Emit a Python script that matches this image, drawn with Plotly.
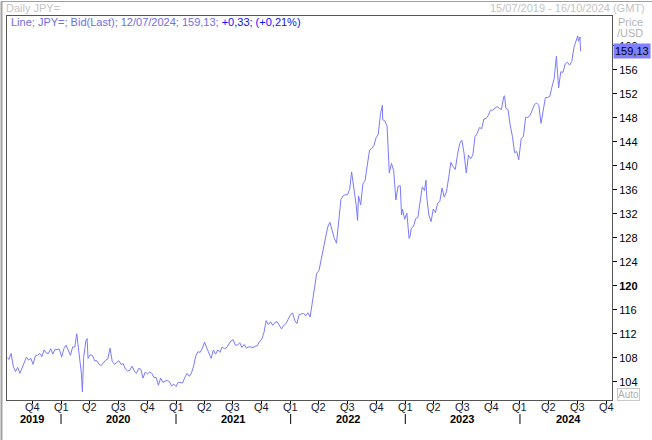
import plotly.graph_objects as go

# ---------------- data ----------------
obs_dates = [
    "2019-07-15", "2019-07-19", "2019-07-26", "2019-08-02", "2019-08-09", "2019-08-16", "2019-08-23", "2019-08-30",
    "2019-09-06", "2019-09-13", "2019-09-20", "2019-09-27", "2019-10-04", "2019-10-11", "2019-10-18", "2019-10-25",
    "2019-11-01", "2019-11-08", "2019-11-15", "2019-11-22", "2019-11-29", "2019-12-06", "2019-12-13", "2019-12-20",
    "2019-12-27",
    "2020-01-03", "2020-01-10", "2020-01-17", "2020-01-24", "2020-01-31", "2020-02-07", "2020-02-14", "2020-02-20",
    "2020-02-28", "2020-03-06", "2020-03-09", "2020-03-13", "2020-03-20", "2020-03-24", "2020-03-27", "2020-04-03",
    "2020-04-10", "2020-04-17", "2020-04-24", "2020-05-01", "2020-05-08", "2020-05-15", "2020-05-22", "2020-05-29",
    "2020-06-05", "2020-06-12", "2020-06-19", "2020-06-26", "2020-07-03", "2020-07-10", "2020-07-17", "2020-07-24",
    "2020-07-31", "2020-08-07", "2020-08-14", "2020-08-21", "2020-08-28", "2020-09-04", "2020-09-11", "2020-09-18",
    "2020-09-25", "2020-10-02", "2020-10-09", "2020-10-16", "2020-10-23", "2020-10-30", "2020-11-06", "2020-11-13",
    "2020-11-20", "2020-11-27", "2020-12-04", "2020-12-11", "2020-12-18", "2020-12-25",
    "2021-01-01", "2021-01-08", "2021-01-15", "2021-01-22", "2021-01-29", "2021-02-05", "2021-02-12", "2021-02-19",
    "2021-02-26", "2021-03-05", "2021-03-12", "2021-03-19", "2021-03-26", "2021-04-02", "2021-04-09", "2021-04-16",
    "2021-04-23", "2021-04-30", "2021-05-07", "2021-05-14", "2021-05-21", "2021-05-28", "2021-06-04", "2021-06-11",
    "2021-06-18", "2021-06-25", "2021-07-02", "2021-07-09", "2021-07-16", "2021-07-23", "2021-07-30", "2021-08-06",
    "2021-08-13", "2021-08-20", "2021-08-27", "2021-09-03", "2021-09-10", "2021-09-17", "2021-09-24", "2021-10-01",
    "2021-10-08", "2021-10-15", "2021-10-22", "2021-10-29", "2021-11-05", "2021-11-12", "2021-11-19", "2021-11-26",
    "2021-12-03", "2021-12-10", "2021-12-17", "2021-12-24", "2021-12-31",
    "2022-01-07", "2022-01-14", "2022-01-21", "2022-01-28", "2022-02-04", "2022-02-11", "2022-02-18", "2022-02-25",
    "2022-03-04", "2022-03-11", "2022-03-18", "2022-03-25", "2022-04-01", "2022-04-08", "2022-04-15", "2022-04-22",
    "2022-04-29", "2022-05-06", "2022-05-13", "2022-05-20", "2022-05-27", "2022-06-03", "2022-06-10", "2022-06-17",
    "2022-06-24", "2022-07-01", "2022-07-08", "2022-07-14", "2022-07-22", "2022-07-29", "2022-08-02", "2022-08-05",
    "2022-08-12", "2022-08-19", "2022-08-26", "2022-09-02", "2022-09-09", "2022-09-16", "2022-09-23", "2022-09-30",
    "2022-10-07", "2022-10-14", "2022-10-20", "2022-10-21", "2022-10-28", "2022-11-04", "2022-11-11", "2022-11-18",
    "2022-11-25", "2022-12-02", "2022-12-09", "2022-12-16", "2022-12-20", "2022-12-23", "2022-12-30",
    "2023-01-06", "2023-01-13", "2023-01-16", "2023-01-20", "2023-01-27", "2023-02-03", "2023-02-10", "2023-02-17",
    "2023-02-24", "2023-03-03", "2023-03-08", "2023-03-10", "2023-03-17", "2023-03-24", "2023-03-31", "2023-04-07",
    "2023-04-14", "2023-04-21", "2023-04-28", "2023-05-05", "2023-05-12", "2023-05-19", "2023-05-26", "2023-06-02",
    "2023-06-09", "2023-06-16", "2023-06-23", "2023-06-30", "2023-07-07", "2023-07-14", "2023-07-21", "2023-07-28",
    "2023-08-04", "2023-08-11", "2023-08-18", "2023-08-25", "2023-09-01", "2023-09-08", "2023-09-15", "2023-09-22",
    "2023-09-29", "2023-10-06", "2023-10-13", "2023-10-20", "2023-10-27", "2023-11-03", "2023-11-10", "2023-11-13",
    "2023-11-17", "2023-11-24", "2023-12-01", "2023-12-08", "2023-12-15", "2023-12-22", "2023-12-28",
    "2024-01-05", "2024-01-12", "2024-01-19", "2024-01-26", "2024-02-02", "2024-02-09", "2024-02-16", "2024-02-23",
    "2024-03-01", "2024-03-08", "2024-03-15", "2024-03-22", "2024-03-29", "2024-04-05", "2024-04-12", "2024-04-19",
    "2024-04-26", "2024-04-29", "2024-05-03", "2024-05-10", "2024-05-17", "2024-05-24", "2024-05-31", "2024-06-07",
    "2024-06-14", "2024-06-21", "2024-06-28", "2024-07-03", "2024-07-05", "2024-07-10", "2024-07-12",
]

usd_jpy = [
    108.0, 107.7, 108.7, 106.6, 105.7, 106.4, 105.4, 106.3,
    106.9, 108.1, 107.6, 107.9, 106.9, 108.3, 108.4, 108.7,
    108.2, 109.3, 108.8, 108.7, 109.5, 108.6, 109.4, 109.4,
    109.4,
    108.1, 109.5, 110.1, 109.3, 108.4, 109.8, 109.8, 112.0,
    107.9, 105.3, 102.3, 108.0, 110.8, 111.2, 107.9, 108.5,
    108.4, 107.5, 107.5, 106.9, 106.7, 107.1, 107.6, 107.8,
    109.6, 107.4, 106.9, 107.2, 107.5, 106.9, 107.0, 106.1,
    105.8, 105.9, 106.6, 105.8, 105.4, 106.2, 106.1, 104.6,
    105.6, 105.3, 105.6, 105.4, 104.7, 104.7, 103.4, 104.6,
    103.9, 104.1, 104.2, 104.0, 103.3, 103.6,
    103.2, 103.9, 103.9, 103.8, 104.7, 105.4, 104.9, 105.4,
    106.6, 108.3, 109.0, 108.9, 109.6, 110.6, 109.6, 108.8,
    107.9, 109.3, 108.6, 109.3, 108.9, 109.8, 109.5, 109.7,
    110.2, 110.8, 111.0, 110.1, 110.1, 110.5, 109.7, 110.2,
    109.6, 109.8, 109.8, 109.7, 109.9, 110.0, 110.7, 111.1,
    112.2, 114.2, 113.5, 114.0, 113.4, 113.9, 114.0, 113.4,
    112.8, 113.4, 113.7, 114.4, 115.1,
    115.5, 114.2, 113.7, 115.2, 115.3, 115.4, 115.0, 115.5,
    114.8, 117.3, 119.2, 122.1, 122.5, 124.3, 126.4, 128.5,
    129.8, 130.6, 129.2, 127.9, 127.1, 130.9, 134.4, 135.0,
    135.2, 135.2, 136.1, 139.0, 136.1, 133.3, 130.9, 135.0,
    133.5, 137.0, 137.6, 140.2, 142.6, 142.9, 143.4, 144.7,
    145.3, 148.7, 150.1, 147.7, 147.5, 146.6, 138.8, 140.4,
    139.2, 134.3, 136.6, 136.7, 131.8, 132.8, 131.1,
    132.1, 127.9, 128.2, 129.6, 129.9, 131.2, 131.4, 134.2,
    136.5, 135.9, 137.6, 134.9, 131.8, 130.7, 132.8, 132.2,
    133.8, 134.1, 136.3, 134.8, 135.7, 138.0, 140.6, 139.9,
    139.4, 141.8, 143.7, 144.3, 142.1, 138.8, 141.8, 141.2,
    141.8, 144.9, 145.4, 146.4, 146.2, 147.8, 147.9, 148.4,
    149.3, 149.3, 149.6, 149.9, 149.6, 149.4, 151.5, 151.7,
    149.6, 149.4, 146.8, 144.9, 142.2, 142.4, 141.0,
    144.6, 144.9, 148.1, 148.1, 148.4, 149.3, 150.2, 150.5,
    150.1, 147.1, 149.0, 151.4, 151.4, 151.6, 153.2, 154.6,
    158.3, 156.2, 153.0, 155.7, 155.6, 157.0, 157.3, 156.8,
    157.4, 159.8, 160.9, 161.7, 160.8, 161.5, 159.13,
]

y_tick_values = [104, 108, 112, 116, 120, 124, 128, 132, 136, 140, 144, 148, 152, 156, 160]
quarter_starts = [
    "2019-10-01",
    "2020-01-01", "2020-04-01", "2020-07-01", "2020-10-01",
    "2021-01-01", "2021-04-01", "2021-07-01", "2021-10-01",
    "2022-01-01", "2022-04-01", "2022-07-01", "2022-10-01",
    "2023-01-01", "2023-04-01", "2023-07-01", "2023-10-01",
    "2024-01-01", "2024-04-01", "2024-07-01", "2024-10-01",
]
quarter_labels = ["Q4",
                  "Q1", "Q2", "Q3", "Q4", "Q1", "Q2", "Q3", "Q4",
                  "Q1", "Q2", "Q3", "Q4", "Q1", "Q2", "Q3", "Q4",
                  "Q1", "Q2", "Q3", "Q4"]
year_labels = ["2019", "2020", "2021", "2022", "2023", "2024"]
year_label_pos = ["2019-10-01", "2020-07-01", "2021-07-01", "2022-07-01", "2023-07-01", "2024-06-02"]
year_starts = ["2020-01-01", "2021-01-01", "2022-01-01", "2023-01-01", "2024-01-01"]

last_value = 159.13
last_label = "159,13"

# ---------------- figure ----------------
W, H = 652, 440
L, R, T, B = 7, 40, 16, 40
PH = H - T - B
PW = W - L - R
FONT = "Liberation Sans"
LINE = "#7a7aff"


def py(px):
    """pixel y (from top) -> paper y"""
    return (H - B - px) / PH


def pxx(px):
    """pixel x (from left) -> paper x"""
    return (px - L) / PW


fig = go.Figure()
fig.add_trace(go.Scatter(x=obs_dates, y=usd_jpy, mode="lines",
                         line=dict(color=LINE, width=1), hoverinfo="x+y",
                         showlegend=False))

tick_text = ["<b>120</b>" if v == 120 else str(v) for v in y_tick_values]

fig.update_layout(
    width=W, height=H,
    margin=dict(l=L, r=R, t=T, b=B, pad=0),
    paper_bgcolor="white", plot_bgcolor="white",
    font=dict(family=FONT, size=11, color="#000000"),
    xaxis=dict(type="date", range=["2019-07-13", "2024-10-20"],
               tickvals=quarter_starts, showticklabels=False,
               ticks="outside", ticklen=3, tickcolor="#000000", tickwidth=1,
               showgrid=False, zeroline=False,
               showline=True, linecolor="#555555", linewidth=1, mirror=True),
    yaxis=dict(side="right", range=[100.95, 165.0],
               tickvals=y_tick_values, ticktext=tick_text,
               ticks="outside", ticklen=4, tickcolor="#000000", tickwidth=1,
               tickfont=dict(family=FONT, size=11, color="#000000"),
               showgrid=False, zeroline=False,
               showline=True, linecolor="#555555", linewidth=1, mirror=True),
)

ann = []
for d, q in zip(quarter_starts, quarter_labels):
    ann.append(dict(x=d, xref="x", y=py(406.5), yref="paper", text=q, showarrow=False,
                    xanchor="center", yanchor="middle",
                    font=dict(family=FONT, size=11, color="#1a1a2e")))
for d, yl in zip(year_label_pos, year_labels):
    ann.append(dict(x=d, xref="x", y=py(418.5), yref="paper", text="<b>" + yl + "</b>",
                    showarrow=False, xanchor="center", yanchor="middle",
                    font=dict(family=FONT, size=11, color="#000000")))

# header texts
ann.append(dict(x=pxx(4), xref="paper", y=py(8), yref="paper", yanchor="middle",
                xanchor="left", text="Daily JPY=", showarrow=False,
                font=dict(family=FONT, size=11, color="#c4c4c4")))
ann.append(dict(x=pxx(647), xref="paper", y=py(8), yref="paper", yanchor="middle",
                xanchor="right", text="15/07/2019 - 16/10/2024 (GMT)", showarrow=False,
                font=dict(family=FONT, size=11, color="#c4c4c4")))
ann.append(dict(x=pxx(616), xref="paper", y=py(22), yref="paper", yanchor="middle",
                xanchor="left", text="Price", showarrow=False,
                font=dict(family=FONT, size=11, color="#b4b4b4")))
ann.append(dict(x=pxx(615), xref="paper", y=py(33), yref="paper", yanchor="middle",
                xanchor="left", text="/USD", showarrow=False,
                font=dict(family=FONT, size=11, color="#b4b4b4")))
ann.append(dict(x=pxx(9), xref="paper", y=py(22), yref="paper", yanchor="middle",
                xanchor="left",
                text="<span style='color:#6e6eea'>Line; JPY=; Bid(Last); 12/07/2024; 159,13; </span>"
                     "<span style='color:#1010ff'>+0,33; (+0,21%)</span>",
                showarrow=False, font=dict(family=FONT, size=11)))
# current price box
ann.append(dict(x=pxx(613), xref="paper", y=last_value, yref="y", yanchor="middle",
                xanchor="left", text=last_label, showarrow=False, bgcolor="#8080ff",
                borderpad=1, font=dict(family=FONT, size=11, color="#000000")))
# Auto box
ann.append(dict(x=pxx(617), xref="paper", y=py(394.5), yref="paper", yanchor="middle",
                xanchor="left", text="Auto", showarrow=False, bordercolor="#c8c8c8",
                borderwidth=1, borderpad=0, font=dict(family=FONT, size=10, color="#b0b0b0")))
fig.update_layout(annotations=ann)

shapes = []
for d in year_starts:
    shapes.append(dict(type="line", xref="x", x0=d, x1=d, yref="paper",
                       y0=py(414), y1=py(424), line=dict(color="#000000", width=1)))
# outer frame lines
shapes.append(dict(type="line", xref="paper", yref="paper",
                   x0=pxx(1.5), x1=pxx(1.5), y0=py(H), y1=py(1.5),
                   line=dict(color="#a0a0a0", width=2)))
shapes.append(dict(type="line", xref="paper", yref="paper",
                   x0=pxx(1), x1=pxx(W), y0=py(1.5), y1=py(1.5),
                   line=dict(color="#a0a0a0", width=1)))
fig.update_layout(shapes=shapes)

fig.write_html("out.html",
               config={"displayModeBar": False},
               post_script="document.body.style.margin='0';document.body.style.padding='0';")
